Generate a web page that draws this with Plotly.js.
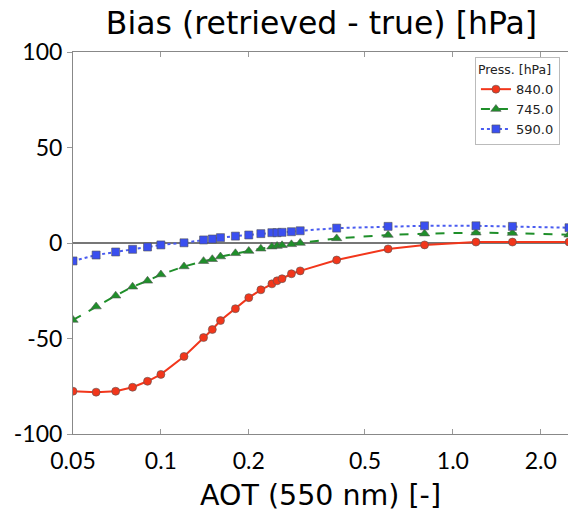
<!DOCTYPE html>
<html><head><meta charset="utf-8">
<script src="https://cdn.plot.ly/plotly-3.0.1.min.js"></script>
<style>html,body{margin:0;padding:0;background:#fff}#chart{width:568px;height:513px}</style>
</head><body><div id="chart"></div>
<script>
const aot = [0.05,0.06,0.07,0.08,0.09,0.1,0.12,0.14,0.15,0.16,0.18,0.2,0.22,0.24,0.25,0.26,0.28,0.3,0.4,0.6,0.8,1.2,1.6,2.5];
const bias840 = [-77.6,-78.1,-77.6,-75.5,-72.4,-68.8,-59.4,-49.5,-45.3,-40.6,-34.4,-28.6,-24.5,-21.4,-19.8,-18.7,-16.1,-14.6,-8.9,-3.1,-1.0,0.5,0.5,0.5];
const bias745 = [-40.3,-33.3,-27.6,-22.9,-19.8,-16.5,-12.3,-9.5,-8.5,-7.1,-5.4,-4.2,-3.0,-1.9,-1.6,-1.2,-0.7,0.0,2.4,4.2,4.9,5.4,5.2,4.3];
const bias590 = [-9.4,-6.3,-4.7,-3.3,-2.1,-1.0,0.1,1.6,2.1,2.8,3.6,4.2,4.9,5.4,5.4,5.6,5.9,6.4,7.8,8.7,9.0,9.0,8.7,8.0];
const seriesNames = ['840.0','745.0','590.0'];
const xTickVals = [0.05,0.1,0.2,0.5,1.0,2.0];
const xTickText = ['0.05','0.1','0.2','0.5','1.0','2.0'];
const yTickVals = [100,50,0,-50,-100];
const yTickText = ['100','50','0','-50','-100'];

const edge = {color:'#555', width:0.6};
const traces = [
  {x:aot, y:bias840, name:seriesNames[0], mode:'lines+markers',
   line:{color:'#f2361b', width:2, dash:'solid'},
   marker:{symbol:'circle', size:8, color:'#f2361b', line:edge}},
  {x:aot, y:bias745, name:seriesNames[1], mode:'lines+markers',
   line:{color:'#1f8f2a', width:2, dash:'dash'},
   marker:{symbol:'triangle-up', size:9, color:'#1f8f2a', line:edge}},
  {x:aot, y:bias590, name:seriesNames[2], mode:'lines+markers',
   line:{color:'#4a5cf0', width:2, dash:'dot'},
   marker:{symbol:'square', size:8, color:'#3a4ff0', line:edge}}
];
const font = 'Lato, sans-serif';
const tfont = 'DejaVu Sans, sans-serif';
const layout = {
  width:568, height:513,
  margin:{l:73, r:0, t:52, b:79},
  paper_bgcolor:'#fff', plot_bgcolor:'#fff',
  title:{text:'Bias (retrieved - true) [hPa]', font:{family:tfont, size:31.5, color:'#000'},
         x:0.566, xanchor:'center', y:0.955, yanchor:'middle'},
  xaxis:{type:'log', range:[Math.log10(0.05), Math.log10(2.48)],
         tickvals:xTickVals, ticktext:xTickText, ticks:'inside', ticklen:5, tickcolor:'#999',
         showgrid:false, zeroline:false, showline:true, linecolor:'#888', linewidth:1, mirror:'ticks',
         tickfont:{family:font, size:23, color:'#000'}, ticklabelstandoff:6,
         title:{text:'AOT (550 nm) [-]', font:{family:tfont, size:28.5, color:'#000'}, standoff:12}},
  yaxis:{range:[-100,100], tickvals:yTickVals, ticktext:yTickText, ticks:'outside', ticklen:5, tickcolor:'#999',
         showgrid:false, zeroline:true, zerolinecolor:'#777', zerolinewidth:1.2,
         showline:true, linecolor:'#888', linewidth:1,
         tickfont:{family:font, size:23, color:'#000'}},
  showlegend:true,
  legend:{x:0.812, y:0.987, xanchor:'left', yanchor:'top', bgcolor:'#fff', bordercolor:'#bbb', borderwidth:1,
          font:{family:tfont, size:13, color:'#222'}, title:{text:'Press. [hPa]', font:{family:tfont, size:12.5, color:'#222'}},
          tracegroupgap:0, itemwidth:30}
};
Plotly.newPlot('chart', traces, layout, {displayModeBar:false, staticPlot:true});
</script></body></html>
